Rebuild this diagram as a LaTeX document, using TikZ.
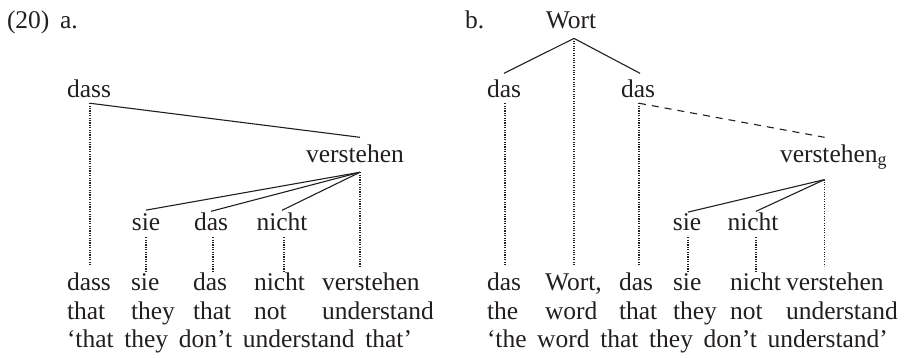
\documentclass[tikz,border=0pt]{standalone}
\usepackage{fontspec}
\setmainfont{Liberation Serif}
\definecolor{ink}{RGB}{35,31,32}
\newcommand{\widesp}{\spaceskip=10.6pt\relax}
\begin{document}
\begin{tikzpicture}[x=1pt,y=-1pt,
  w/.style={inner sep=0pt, outer sep=0pt, text=ink, font=\fontsize{25.5}{30}\selectfont},
  tree/.style={draw=ink, line width=1.1pt},
  dot/.style={draw=ink, line width=1.15pt, dash pattern=on 1.1pt off 1.3pt},
  dsh/.style={draw=ink, line width=1.1pt, dash pattern=on 7pt off 6pt}]
\useasboundingbox (0,0) rectangle (908,357);
\coordinate (rowtop) at (0,266);
% ---------- (20) a.
\node[w, anchor=base west] (num) at (7,28) {(20)};
\node[w, anchor=base west] (la) at (60,28) {a.};
\node[w, anchor=base] (aDass) at (89,97) {dass};
\node[w, anchor=base] (aVer) at (355,162) {verstehen};
\node[w, anchor=base] (aSie) at (146,230) {sie};
\node[w, anchor=base] (aDas) at (211,230) {das};
\node[w, anchor=base] (aNicht) at (282,230) {nicht};
% bottom rows a
\node[w, anchor=base west] (a1) at (67,290) {dass};
\node[w, anchor=base west] (a2) at (131,290) {sie};
\node[w, anchor=base west] (a3) at (193,290) {das};
\node[w, anchor=base west] (a4) at (254,290) {nicht};
\node[w, anchor=base west] (a5) at (322,290) {verstehen};
\node[w, anchor=base west] (g1) at (67,319) {that};
\node[w, anchor=base west] (g2) at (131,319) {they};
\node[w, anchor=base west] (g3) at (193,319) {that};
\node[w, anchor=base west] (g4) at (254,319) {not};
\node[w, anchor=base west] (g5) at (322,319) {understand};
\node[w, anchor=base west] (aTr) at (67,347) {\widesp`that they don't understand that'};
% connectors a
\coordinate (aDassB) at ([xshift=1pt,yshift=-6pt]aDass.south);
\coordinate (aVerT) at ([xshift=5pt,yshift=7pt]aVer.north);
\coordinate (aVerB) at ([xshift=5pt,yshift=-10pt]aVer.south);
\draw[tree] (aDassB) -- (aVerT);
\draw[tree] (aVerB) -- ([yshift=3pt]aSie.north);
\draw[tree] (aVerB) -- ([yshift=1pt]aDas.north);
\draw[tree] (aVerB) -- ([yshift=2pt]aNicht.north);
\draw[dot] (aDassB) -- (aDassB |- rowtop);
\draw[dot] (aVerB) -- (aVerB |- rowtop);
\draw[dot] ([yshift=-7pt]aSie.south) -- ([yshift=-7pt]aSie.south |- rowtop);
\draw[dot] ([xshift=2pt,yshift=-7pt]aDas.south) -- ([xshift=2pt,yshift=-7pt]aDas.south |- rowtop);
\draw[dot] ([xshift=2pt,yshift=-7pt]aNicht.south) -- ([xshift=2pt,yshift=-7pt]aNicht.south |- rowtop);
% ---------- b.
\node[w, anchor=base west] (lb) at (465,28) {b.};
\node[w, anchor=base] (bWort) at (571,28) {Wort};
\node[w, anchor=base] (bDasL) at (504,97) {das};
\node[w, anchor=base] (bDasR) at (638,97) {das};
\node[w, anchor=base west] (bVer) at (780,162) {verstehen\textsubscript{g}};
\node[w, anchor=base] (bSie) at (687,230) {sie};
\node[w, anchor=base] (bNicht) at (753,230) {nicht};
% bottom rows b
\node[w, anchor=base west] (b1) at (487,290) {das};
\node[w, anchor=base west] (b2) at (545,290) {Wort,};
\node[w, anchor=base west] (b3) at (619,290) {das};
\node[w, anchor=base west] (b4) at (673,290) {sie};
\node[w, anchor=base west] (b5) at (730,290) {nicht};
\node[w, anchor=base west] (b6) at (786,290) {verstehen};
\node[w, anchor=base west] (h1) at (487,319) {the};
\node[w, anchor=base west] (h2) at (545,319) {word};
\node[w, anchor=base west] (h3) at (619,319) {that};
\node[w, anchor=base west] (h4) at (673,319) {they};
\node[w, anchor=base west] (h5) at (730,319) {not};
\node[w, anchor=base west] (h6) at (786,319) {understand};
\node[w, anchor=base west] (bTr) at (487,347) {\widesp`the word that they don't understand'};
% connectors b
\coordinate (bWortB) at ([xshift=3pt,yshift=-10pt]bWort.south);
\coordinate (bDasLB) at ([xshift=1pt,yshift=-6pt]bDasL.south);
\coordinate (bDasRB) at ([xshift=1pt,yshift=-6pt]bDasR.south);
\coordinate (bVerT) at ([xshift=-9pt,yshift=7pt]bVer.north);
\coordinate (bVerB) at ([xshift=-9pt,yshift=-10pt]bVer.south);
\draw[tree] (bWortB) -- ([yshift=6pt]bDasL.north);
\draw[tree] (bWortB) -- ([xshift=2pt,yshift=6pt]bDasR.north);
\draw[dot] (bWortB) -- (bWortB |- rowtop);
\draw[dot] (bDasLB) -- (bDasLB |- rowtop);
\draw[dot] (bDasRB) -- (bDasRB |- rowtop);
\draw[dsh] (bDasRB) -- (bVerT);
\draw[tree] (bVerB) -- ([xshift=1pt,yshift=1pt]bSie.north);
\draw[tree] (bVerB) -- ([xshift=3pt,yshift=1pt]bNicht.north);
\draw[dot] (bVerB) -- (bVerB |- rowtop);
\draw[dot] ([xshift=1pt,yshift=-7pt]bSie.south) -- ([xshift=1pt,yshift=-7pt]bSie.south |- rowtop);
\draw[dot] ([xshift=3pt,yshift=-7pt]bNicht.south) -- ([xshift=3pt,yshift=-7pt]bNicht.south |- rowtop);
\end{tikzpicture}
\end{document}
